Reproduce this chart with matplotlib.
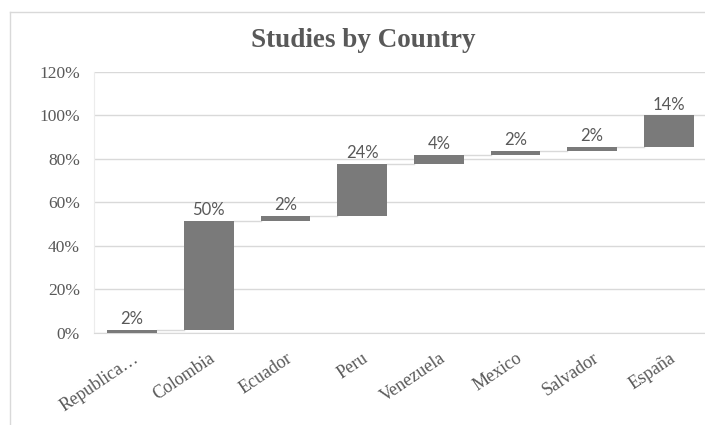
import numpy as np
import matplotlib
matplotlib.use("Agg")
import matplotlib.pyplot as plt
from matplotlib.lines import Line2D

# waterfall: share of studies by country (%)
countries = ["Republica…", "Colombia", "Ecuador", "Peru",
             "Venezuela", "Mexico", "Salvador", "España"]
values = [1.6, 50.0, 2.2, 23.9, 4.1, 1.9, 1.9, 14.4]
labels = ["2%", "50%", "2%", "24%", "4%", "2%", "2%", "14%"]
yticks = [0, 20, 40, 60, 80, 100, 120]

gray_txt = "#595959"
grid_c = "#d9d9d9"
bar_c = "#7a7a7a"

fig = plt.figure(figsize=(7.05, 4.25), dpi=100)
ax = fig.add_axes([0.133, 0.2165, 0.87, 0.6141])

vals = np.array(values)
tops = np.cumsum(vals)
bottoms = tops - vals
x = np.arange(len(countries))
w = 0.65

ax.bar(x, vals, bottom=bottoms, width=w, color=bar_c, zorder=3)

# connectors between bars
for i in range(len(x) - 1):
    ax.plot([x[i] + w / 2, x[i + 1] - w / 2], [tops[i], tops[i]],
            color=grid_c, lw=1, zorder=2)

for xi, t, lab in zip(x, tops, labels):
    ax.text(xi, t + 1.2, lab, ha="center", va="bottom", fontsize=12,
            family="Lato", color=gray_txt)

ax.set_xlim(-0.5, len(countries) - 0.5)
ax.set_ylim(0, 120)
ax.set_yticks(yticks)
ax.set_yticklabels([f"{v}%" for v in yticks], family="Liberation Serif",
                   fontsize=12.5, color=gray_txt)
ax.set_xticks(x)
ax.set_xticklabels(countries, family="Liberation Serif", fontsize=13,
                   color=gray_txt, rotation=34, ha="right",
                   rotation_mode="anchor")
ax.tick_params(axis="both", length=0)
ax.tick_params(axis="y", pad=10)
ax.tick_params(axis="x", pad=12)

ax.grid(axis="y", color=grid_c, lw=1, zorder=0)
for s in ["top", "right"]:
    ax.spines[s].set_visible(False)
ax.spines["left"].set_color("#ececec")
ax.spines["bottom"].set_color(grid_c)

fig.text(0.515, 0.905, "Studies by Country", ha="center", va="center",
         family="Liberation Serif", fontweight="bold", fontsize=19.5,
         color=gray_txt)

# outer chart frame (left and top edges visible)
fig.add_artist(Line2D([0.014, 0.014], [0.0, 0.972], color=grid_c, lw=1,
                      transform=fig.transFigure))
fig.add_artist(Line2D([0.014, 1.0], [0.972, 0.972], color=grid_c, lw=1,
                      transform=fig.transFigure))

fig.savefig("out.png", dpi=100)
